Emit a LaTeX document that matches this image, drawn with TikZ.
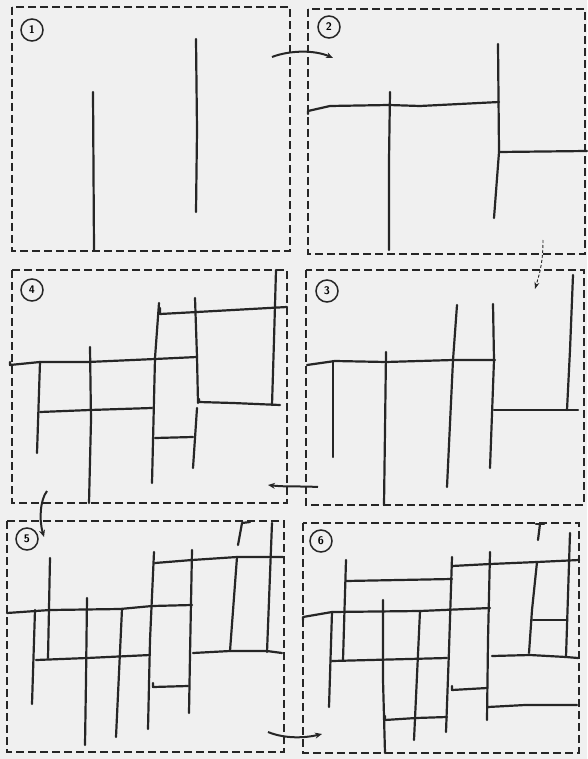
\documentclass[tikz,border=0pt]{standalone}
\usetikzlibrary{arrows.meta}
\begin{document}
\begin{tikzpicture}[x=1pt,y=-1pt,
  wall/.style={line width=2.2pt, line cap=round, line join=round, draw=black!85},
  frame/.style={line width=1.7pt, dash pattern=on 8pt off 4pt, draw=black!85},
  num/.style={circle, draw=black!85, line width=1.5pt, minimum size=22pt, inner sep=0pt, font=\sffamily\bfseries\fontsize{11}{12}\selectfont},
  flow/.style={line width=2pt, draw=black!85, -{Stealth[length=7pt,width=6pt]}},
  thinflow/.style={line width=0.9pt, draw=black!85, dash pattern=on 3pt off 2pt, -{Stealth[length=7pt,width=5pt]}}]
\fill[black!6] (0,0) rectangle (587,759);
\useasboundingbox (0,0) rectangle (587,759);

% ---------- frames ----------
\draw[frame] (12,7) rectangle (290,251);
\draw[frame] (308,9) rectangle (585,254);
\draw[frame] (306,270) rectangle (584,505);
\draw[frame] (12,270) rectangle (287,503);
\draw[frame] (7,521) rectangle (284,752);
\draw[frame] (303,523) rectangle (579,753);

% ---------- numbers ----------
\node[num] (n1) at (32,30) {1};
\node[num] (n2) at (329,27) {2};
\node[num] (n3) at (327,291) {3};
\node[num] (n4) at (32,290) {4};
\node[num] (n5) at (27,539) {5};
\node[num] (n6) at (321,541) {6};

% ---------- panel 1 ----------
\draw[wall] (93,92) -- (94,250);
\draw[wall] (196,39) -- (197,130) -- (196,212);

% ---------- panel 2 ----------
\draw[wall] (308,114) -- (308,111) -- (330,106) -- (389,105) -- (420,106) -- (499,102);
\draw[wall] (390,92) -- (389,160) -- (389,250);
\draw[wall] (498,44) -- (499,152) -- (494,218);
\draw[wall] (499,152) -- (587,151);

% ---------- panel 3 ----------
\draw[wall] (307,365) -- (335,361) -- (386,362) -- (453,360) -- (495,360);
\draw[wall] (333,361) -- (333,457);
\draw[wall] (386,352) -- (385,430) -- (384,505);
\draw[wall] (457,305) -- (453,360) -- (447,487);
\draw[wall] (493,304) -- (494,360) -- (490,468);
\draw[wall] (494,410) -- (578,410);
\draw[wall] (573,275) -- (570,350) -- (567,410);

% ---------- panel 4 ----------
\draw[wall] (10,362) -- (10,365) -- (40,362) -- (88,362) -- (155,359) -- (197,357);
\draw[wall] (40,362) -- (37,453);
\draw[wall] (90,347) -- (91,420) -- (89,503);
\draw[wall] (159,303) -- (155,358) -- (152,483);
\draw[wall] (195,298) -- (197,357) -- (198,403);
\draw[wall] (197,408) -- (193,468);
\draw[wall] (160,308) -- (160,314) -- (197,312) -- (287,307);
\draw[wall] (276,270) -- (274,340) -- (272,405);
\draw[wall] (199,399) -- (199,402) -- (233,403) -- (280,405);
\draw[wall] (40,412) -- (90,410) -- (152,408);
\draw[wall] (155,438) -- (193,437);

% ---------- panel 5 ----------
\draw[wall] (7,613) -- (50,610) -- (120,609) -- (152,606) -- (192,605);
\draw[wall] (35,610) -- (32,704);
\draw[wall] (50,558) -- (48,658);
\draw[wall] (36,660) -- (87,658) -- (150,655);
\draw[wall] (87,598) -- (86,680) -- (85,745);
\draw[wall] (122,609) -- (116,737);
\draw[wall] (154,552) -- (150,640) -- (148,729);
\draw[wall] (155,563) -- (192,560) -- (237,557) -- (283,557);
\draw[wall] (192,550) -- (190,655) -- (189,713);
\draw[wall] (153,683) -- (153,687) -- (188,686);
\draw[wall] (250,522) -- (242,523) -- (238,545);
\draw[wall] (237,557) -- (230,651);
\draw[wall] (272,523) -- (267,652);
\draw[wall] (193,653) -- (230,651) -- (267,651) -- (282,653);

% ---------- panel 6 ----------
\draw[wall] (303,620) -- (303,617) -- (332,612) -- (420,611) -- (490,608);
\draw[wall] (332,612) -- (329,707);
\draw[wall] (346,560) -- (343,660);
\draw[wall] (346,581) -- (452,579);
\draw[wall] (332,661) -- (447,658);
\draw[wall] (383,600) -- (383,680) -- (385,753);
\draw[wall] (420,611) -- (414,740);
\draw[wall] (452,557) -- (449,650) -- (446,732);
\draw[wall] (452,566) -- (490,564) -- (537,562) -- (579,560);
\draw[wall] (490,552) -- (488,640) -- (487,720);
\draw[wall] (452,686) -- (452,690) -- (487,688);
\draw[wall] (385,716) -- (385,720) -- (416,718) -- (447,717);
\draw[wall] (536,524) -- (544,524);
\draw[wall] (540,524) -- (538,540);
\draw[wall] (537,562) -- (532,610) -- (529,653);
\draw[wall] (570,533) -- (566,657);
\draw[wall] (533,620) -- (567,620);
\draw[wall] (492,656) -- (530,655) -- (566,657) -- (578,658);
\draw[wall] (488,707) -- (525,705) -- (577,705);

% ---------- arrows ----------
\coordinate (a1s) at (272,57);
\coordinate (a1e) at (333,58);
\draw[flow] (a1s) .. controls (290,50) and (315,50) .. (a1e);

\coordinate (a2s) at (543,240);
\coordinate (a2e) at (535,289);
\draw[thinflow] (a2s) .. controls (543,262) and (540,272) .. (a2e);

\coordinate (a3s) at (318,487);
\coordinate (a3e) at (268,485);
\draw[flow] (a3s) .. controls (300,486) and (285,487) .. (a3e);

\coordinate (a4s) at (47,491);
\coordinate (a4e) at (44,537);
\draw[flow] (a4s) .. controls (40,500) and (39,520) .. (a4e);

\coordinate (a5s) at (268,732);
\coordinate (a5e) at (322,734);
\draw[flow] (a5s) .. controls (285,739) and (305,738) .. (a5e);
\end{tikzpicture}
\end{document}
